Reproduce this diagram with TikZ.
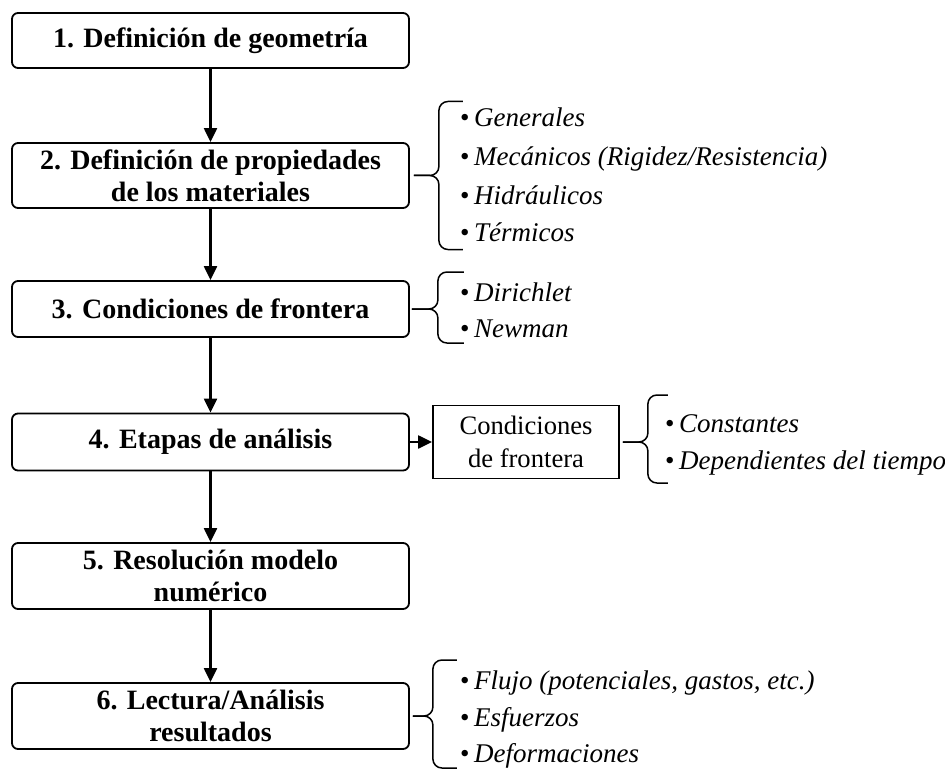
\documentclass[tikz,border=0pt]{standalone}
\usepackage{fontspec}
\setmainfont{Liberation Serif}
\usetikzlibrary{arrows.meta,positioning}

\newcommand{\sidebrace}[5]{% tip, arm, up, down, hook
  \draw[bracebar] (#1) -- ++(#2,0) -- ++(0,-#3) -- ++(#5,0);
  \draw[bracebar] (#1) -- ++(#2,0) -- ++(0,#4) -- ++(#5,0);}

\begin{document}
\begin{tikzpicture}[
    x=1pt, y=-1pt,
    stage/.style={draw, line width=1.8pt, rounded corners=6pt, minimum width=397pt, align=center, inner sep=0pt, font=\fontsize{28}{32}\selectfont\bfseries},
    plain/.style={draw, line width=1.8pt, minimum width=186pt, minimum height=73pt, align=center, inner sep=0pt, font=\fontsize{26.6}{33}\selectfont},
    item/.style={anchor=base west, inner sep=0pt, font=\fontsize{27}{30}\selectfont},
    bracebar/.style={line width=1.5pt, rounded corners=9pt},
    flow/.style={draw, line width=2.2pt, -{Triangle[width=13pt,length=14pt]}}
]
    \useasboundingbox (0,0) rectangle (945,770);

    % stages
    \node [stage, minimum height=55pt] (geom) at (210.5,40.5) {1. Definición de geometría};
    \node [stage, minimum height=65pt] (props) at (210.5,175.5) {2. Definición de propiedades\\de los materiales};
    \node [stage, minimum height=56pt] (bound) at (210.5,309) {3. Condiciones de frontera};
    \node [stage, minimum height=57pt] (stages) at (210.5,442) {4. Etapas de análisis};
    \node [stage, minimum height=66pt] (solve) at (210.5,576) {5. Resolución modelo\\numérico};
    \node [stage, minimum height=66pt] (read) at (210.5,716) {6. Lectura/Análisis\\resultados};

    \node [plain] (bcond) at (526,442) {Condiciones\\de frontera};

    \draw [flow] (geom) -- (props);
    \draw [flow] (props) -- (bound);
    \draw [flow] (bound) -- (stages);
    \draw [flow] (stages) -- (solve);
    \draw [flow] (solve) -- (read);
    \draw [flow] (stages) -- (bcond);

    % braces
    \sidebrace{[xshift=4pt]props.east}{25}{74}{74}{24}
    \sidebrace{[xshift=2pt]bound.east}{26}{37}{34}{26}
    \sidebrace{[xshift=3pt]bcond.east}{25}{47}{41}{20}
    \sidebrace{[xshift=3pt]read.east}{20}{56}{52}{24}

    % lists
    \node [item] (gen) at (460,127) {\textbullet\,\textit{Generales}};
    \node [item] (mec) at (460,166) {\textbullet\,\textit{Mecánicos (Rigidez/Resistencia)}};
    \node [item] (hid) at (460,205) {\textbullet\,\textit{Hidráulicos}};
    \node [item] (ter) at (460,242) {\textbullet\,\textit{Térmicos}};

    \node [item] (dir) at (460,301) {\textbullet\,\textit{Dirichlet}};
    \node [item] (new) at (460,337) {\textbullet\,\textit{Newman}};

    \node [item] (cons) at (665,432) {\textbullet\,\textit{Constantes}};
    \node [item] (dep) at (665,469) {\textbullet\,\textit{Dependientes del tiempo}};

    \node [item] (flu) at (460,689) {\textbullet\,\textit{Flujo (potenciales, gastos, etc.)}};
    \node [item] (esf) at (460,726) {\textbullet\,\textit{Esfuerzos}};
    \node [item] (def) at (460,762) {\textbullet\,\textit{Deformaciones}};
\end{tikzpicture}
\end{document}
